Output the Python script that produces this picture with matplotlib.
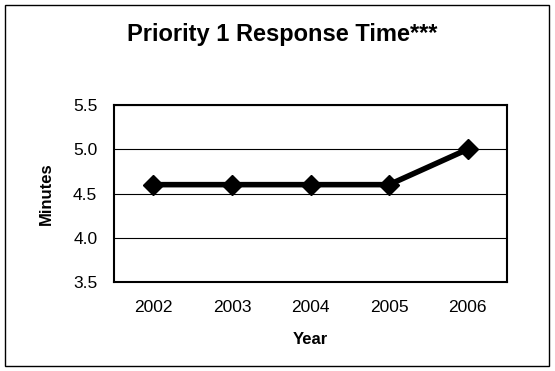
import matplotlib.pyplot as plt
from matplotlib.patches import Rectangle

years = ['2002', '2003', '2004', '2005', '2006']
minutes = [4.6, 4.6, 4.6, 4.6, 5.0]
y_ticks = [3.5, 4.0, 4.5, 5.0, 5.5]

plt.rcParams['font.family'] = ['Liberation Sans', 'DejaVu Sans']

W, H = 555, 371
fig = plt.figure(figsize=(W / 100, H / 100), dpi=100)

# outer frame around the whole chart
fig.patches.append(Rectangle((5 / W, 5 / H), 544 / W, 361 / H, transform=fig.transFigure,
                             fill=False, edgecolor='black', linewidth=1.0))

ax = fig.add_axes([114 / W, 1 - 282 / H, 393 / W, 177 / H])
x = range(len(years))
ax.plot(x, minutes, color='black', linewidth=4, marker='D', markersize=10.5,
        markerfacecolor='black', markeredgecolor='black', zorder=3)

ax.set_xlim(-0.5, len(years) - 0.5)
ax.set_ylim(3.5, 5.5)
ax.set_xticks(list(x))
ax.set_xticklabels(years, fontsize=12.5)
ax.set_yticks(y_ticks)
ax.set_yticklabels(['%.1f' % v for v in y_ticks], fontsize=12.5)
ax.tick_params(length=0)
ax.tick_params(axis='x', pad=13)
ax.tick_params(axis='y', pad=12)
ax.yaxis.grid(True, color='black', linewidth=0.8)
ax.set_axisbelow(True)
for s in ax.spines.values():
    s.set_linewidth(1.5)

ax.set_xlabel('Year', fontsize=12, fontweight='bold', labelpad=12)
ax.set_ylabel('Minutes', fontsize=12, fontweight='bold', labelpad=14)
fig.text(282 / W, 1 - 34 / H, 'Priority 1 Response Time***', ha='center', va='center',
         fontsize=17, fontweight='bold')

fig.savefig('out.png', dpi=100)
